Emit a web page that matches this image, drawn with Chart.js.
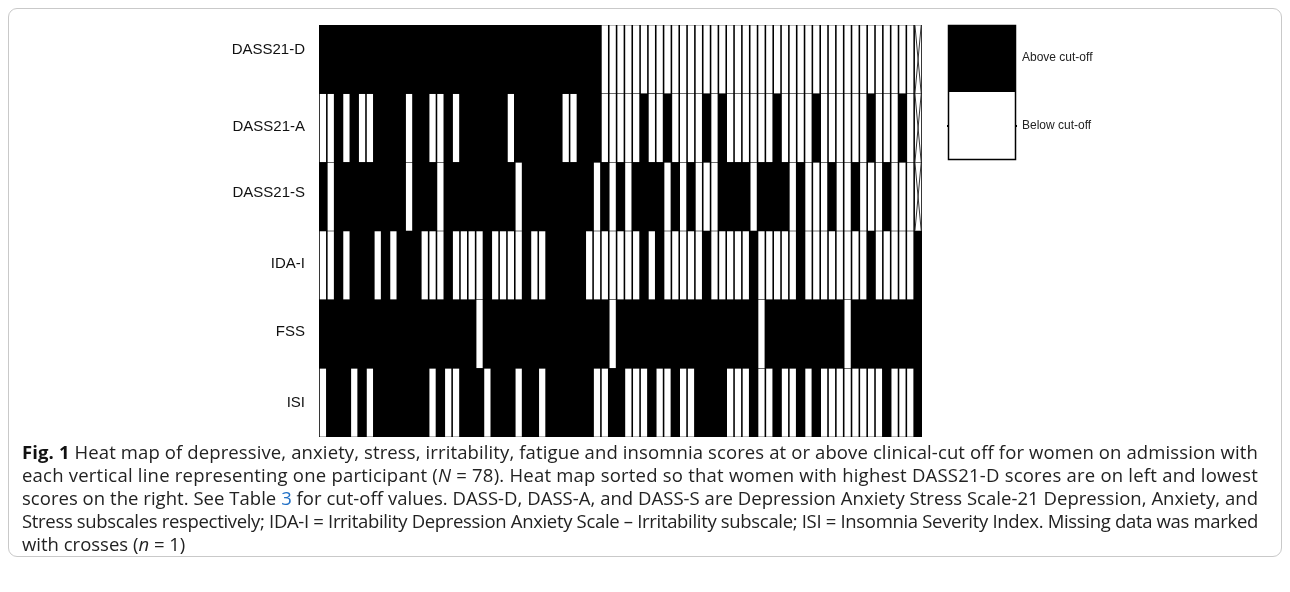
<!DOCTYPE html>
<html><head><meta charset="utf-8">
<script src="https://cdn.jsdelivr.net/npm/chart.js@4/dist/chart.umd.min.js"></script>
<style>
html,body{margin:0;padding:0;background:#fff;width:1290px;height:592px;overflow:hidden;font-family:"Open Sans","Liberation Sans",Arial,sans-serif;}
#frame{position:absolute;left:8px;top:8px;width:1274px;height:549px;border:1px solid #c9c9c9;border-radius:9px;box-sizing:border-box;}
#wrap{position:absolute;left:0;top:0;width:1290px;height:458px;}
#cap{position:absolute;left:22px;top:440px;width:1250px;font-size:16px;line-height:23px;color:#222;}
#cap div{white-space:nowrap;}
#cap b{color:#111;}
#cap a{color:#1f6fc5;text-decoration:none;}
</style></head><body>
<div id="frame"></div>
<div id="wrap"><canvas id="c" width="1290" height="458"></canvas></div>
<div id="cap">
<div><span><b>Fig. 1</b> Heat map of depressive, anxiety, stress, irritability, fatigue and insomnia scores at or above clinical-cut off for women on admission with</span></div>
<div><span>each vertical line representing one participant (<i>N</i> = 78). Heat map sorted so that women with highest DASS21-D scores are on left and lowest</span></div>
<div><span>scores on the right. See Table <a>3</a> for cut-off values. DASS-D, DASS-A, and DASS-S are Depression Anxiety Stress Scale-21 Depression, Anxiety, and</span></div>
<div><span>Stress subscales respectively; IDA-I = Irritability Depression Anxiety Scale – Irritability subscale; ISI = Insomnia Severity Index. Missing data was marked</span></div>
<div><span class="last">with crosses (<i>n</i> = 1)</span></div>
</div>
<script>
// one column per participant as drawn; 1 = above cut-off, 0 = below cut-off, null = missing (cross)
const participants = ["1","2","3","4","5","6","7","8","9","10","11","12","13","14","15","16","17","18","19","20","21","22","23","24","25","26","27","28","29","30","31","32","33","34","35","36","37","38","39","40","41","42","43","44","45","46","47","48","49","50","51","52","53","54","55","56","57","58","59","60","61","62","63","64","65","66","67","68","69","70","71","72","73","74","75","76","77"];
const rowNames = ["DASS21-D","DASS21-A","DASS21-S","IDA-I","FSS","ISI"];
const dassD = [1,1,1,1,1,1,1,1,1,1, 1,1,1,1,1,1,1,1,1,1, 1,1,1,1,1,1,1,1,1,1, 1,1,1,1,1,1,0,0,0,0, 0,0,0,0,0,0,0,0,0,0, 0,0,0,0,0,0,0,0,0,0, 0,0,0,0,0,0,0,0,0,0, 0,0,0,0,0,0,null];
const dassA = [0,0,1,0,1,0,0,1,1,1, 1,0,1,1,0,0,1,0,1,1, 1,1,1,1,0,1,1,1,1,1, 1,0,0,1,1,1,0,0,0,0, 0,1,0,0,1,0,0,0,0,1, 0,1,0,0,0,0,0,0,1,0, 0,0,0,1,0,0,0,0,0,0, 1,0,0,0,1,0,null];
const dassS = [1,0,1,1,1,1,1,1,1,1, 1,0,1,1,1,0,1,1,1,1, 1,1,1,1,1,0,1,1,1,1, 1,1,1,1,1,0,1,0,1,0, 1,1,1,1,0,1,0,1,0,0, 0,1,1,1,1,0,1,1,1,1, 0,1,0,0,0,1,0,0,1,0, 0,0,1,0,0,0,null];
const idaI  = [0,0,1,0,1,1,1,0,1,0, 1,1,1,0,0,0,1,0,0,0, 0,1,0,0,0,0,1,0,0,1, 1,1,1,1,0,0,0,0,0,0, 0,1,0,1,0,0,0,0,0,1, 0,0,0,0,0,1,0,0,0,0, 0,1,0,0,0,0,0,0,0,0, 1,0,0,0,0,0,1];
const fss   = [1,1,1,1,1,1,1,1,1,1, 1,1,1,1,1,1,1,1,1,1, 0,1,1,1,1,1,1,1,1,1, 1,1,1,1,1,1,1,0,1,1, 1,1,1,1,1,1,1,1,1,1, 1,1,1,1,1,1,0,1,1,1, 1,1,1,1,1,1,1,0,1,1, 1,1,1,1,1,1,1];
const isi   = [0,1,1,1,0,1,0,1,1,1, 1,1,1,1,0,1,0,0,1,1, 1,0,1,1,1,0,1,1,0,1, 1,1,1,1,1,0,0,1,1,0, 0,0,1,0,0,1,0,0,1,1, 1,1,0,0,0,1,0,0,1,0, 0,1,0,1,0,0,0,0,0,0, 0,0,1,0,0,0,1];
const legendLabels = ["Above cut-off","Below cut-off"];
// vertical position of each row label on the y scale (rows occupy 0..6)
const labelPos = [5.645, 4.52, 3.55, 2.525, 1.535, 0.50];

const rowsData = [dassD, dassA, dassS, idaI, fss, isi];
const datasets = rowsData.map((vals, r) => {
  const base = rowNames.length - 1 - r;
  return {
    label: rowNames[r],
    data: vals.map(() => [base + 0.004, base + 0.996]),
    rawVals: vals,
    backgroundColor: vals.map(v => v === 1 ? '#000000' : '#ffffff'),
    borderWidth: 0,
    grouped: false,
    barPercentage: 0.8,
    categoryPercentage: 1.0
  };
});

const bgPlugin = {
  id: 'bg',
  beforeDatasetsDraw(chart) {
    const {ctx, chartArea: a} = chart;
    ctx.save(); ctx.fillStyle = '#000'; ctx.fillRect(a.left, a.top, a.right - a.left, a.bottom - a.top); ctx.restore();
  },
  afterDatasetsDraw(chart) {
    const ctx = chart.ctx;
    ctx.save();
    ctx.strokeStyle = '#333'; ctx.lineWidth = 1;
    chart.data.datasets.forEach((ds, di) => {
      const meta = chart.getDatasetMeta(di);
      ds.rawVals.forEach((v, i) => {
        if (v !== null) return;
        const el = meta.data[i];
        const l = el.x - el.width / 2, r = el.x + el.width / 2;
        const t = Math.min(el.y, el.base), b = Math.max(el.y, el.base);
        ctx.beginPath(); ctx.moveTo(l, t); ctx.lineTo(r, b); ctx.moveTo(r, t); ctx.lineTo(l, b); ctx.stroke();
      });
    });
    ctx.restore();
  },
  afterDraw(chart) {
    const ctx = chart.ctx;
    ctx.save();
    ctx.fillStyle = '#000'; ctx.fillRect(948, 25, 68, 67);
    ctx.fillStyle = '#fff'; ctx.fillRect(948, 92, 68, 68);
    ctx.strokeStyle = '#000'; ctx.lineWidth = 1.5; ctx.strokeRect(948.5, 25.5, 67, 134);
    ctx.fillStyle = '#000'; ctx.fillRect(947, 125, 2, 2); ctx.fillRect(1015, 125, 2, 2);
    ctx.fillStyle = '#222'; ctx.font = '12px "Liberation Sans", Arial, sans-serif'; ctx.textBaseline = 'middle';
    ctx.fillText(legendLabels[0], 1022, 58);
    ctx.fillText(legendLabels[1], 1022, 126);
    ctx.restore();
  }
};

const chart = new Chart(document.getElementById('c'), {
  type: 'bar',
  data: { labels: participants, datasets },
  options: {
    responsive: false, animation: false, devicePixelRatio: 1,
    layout: { padding: { left: 0, right: 368, top: 25, bottom: 21 } },
    plugins: { legend: { display: false }, tooltip: { enabled: false } },
    scales: {
      x: { type: 'category', display: false, offset: true },
      y: {
        type: 'linear', min: 0, max: 6,
        grid: { display: false }, border: { display: false },
        afterBuildTicks: ax => { ax.ticks = labelPos.map(v => ({ value: v })); },
        afterFit: ax => { ax.width = 319; },
        ticks: {
          autoSkip: false, padding: 6, color: '#111',
          font: { family: '"Liberation Sans", Arial, sans-serif', size: 15 },
          callback: (v, i) => rowNames[i]
        }
      }
    }
  },
  plugins: [bgPlugin]
});
// keep the plot area at the reference position (top 25, bottom 437)
(function fixArea() {
  const a = chart.chartArea;
  const p = chart.config.options.layout.padding;
  const dB = a.bottom - 437, dT = 25 - a.top;
  if (Math.abs(dB) > 0.5 || Math.abs(dT) > 0.5) {
    p.bottom = Math.max(0, p.bottom + dB);
    p.top = Math.max(0, p.top + dT);
    chart.update('none');
  }
})();

// caption: each of the first four lines spans the same width, like the reference
(function fitCaption() {
  const cap = document.getElementById('cap');
  const spans = Array.from(cap.querySelectorAll('span')).filter(s => !s.classList.contains('last'));
  const target = 1236;
  let ws = spans.map(s => s.getBoundingClientRect().width);
  const avg = ws.reduce((a, b) => a + b, 0) / ws.length;
  const fs = 16 * target / avg;
  cap.style.fontSize = fs.toFixed(2) + 'px';
  spans.forEach(s => {
    const w = s.getBoundingClientRect().width;
    const n = s.textContent.length;
    s.style.letterSpacing = ((target - w) / n).toFixed(3) + 'px';
  });
})();
</script>
</body></html>
